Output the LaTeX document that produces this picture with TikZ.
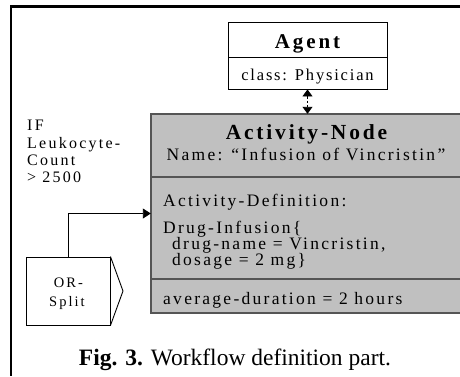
\documentclass[tikz,border=0pt]{standalone}
\usepackage{fontspec}
\setmainfont{Liberation Serif}
\newfontfamily\lsA[LetterSpace=13]{Liberation Serif}
\newfontfamily\lsB[LetterSpace=14]{Liberation Serif}
\newfontfamily\lsC[LetterSpace=14]{Liberation Serif}
\newfontfamily\lsD[LetterSpace=11]{Liberation Serif}
\usetikzlibrary{arrows.meta}
\definecolor{boxgray}{RGB}{192,192,192}
\definecolor{edgegray}{RGB}{85,85,85}
\tikzset{
  txt/.style={inner sep=0pt, anchor=base west},
  txtc/.style={inner sep=0pt, anchor=base},
  plainbox/.style={draw=black, line width=0.9pt, inner sep=0pt},
  tri/.style={-{Triangle[width=10pt,length=8pt]}},
  dtri/.style={{Triangle[width=10pt,length=7pt]}-{Triangle[width=10pt,length=7pt]}},
}
\begin{document}
\begin{tikzpicture}[x=1pt,y=-1pt]
\useasboundingbox (0,0) rectangle (460,376);
% frame
\draw[line width=2.3pt] (460,6.5) -- (11,6.5) -- (11,376);
% agent box
\node[plainbox, minimum width=159pt, minimum height=67pt] (agent) at (307.5,55.5) {};
\draw[line width=0.9pt] (228,57) -- (387,57);
\node[txtc] (agentT) at (307.5,48) {\lsB\fontsize{21}{24}\selectfont\bfseries Agent};
\node[txtc] (agentC) at (307.5,80) {\lsD\fontsize{16.5}{19}\selectfont class: Physician};
% activity box
\node[fill=boxgray, inner sep=0pt, minimum width=309pt, minimum height=199pt] (act) at (305.5,213.5) {};
\draw[edgegray, line width=1.3pt] (460,114) -- (151,114) -- (151,313) -- (460,313);
\draw[edgegray, line width=1.3pt] (151,177) -- (460,177);
\draw[edgegray, line width=1.3pt] (151,279) -- (460,279);
\node[txtc] (actT) at (306.5,139.5) {\lsA\fontsize{21.5}{24}\selectfont\bfseries Activity-Node};
\node[txtc] (actN) at (306,160) {\lsA\fontsize{17.5}{20}\selectfont Name: “Infusion of Vincristin”};
\node[txt] (actD) at (163,206.5) {\lsA\fontsize{17.5}{20}\selectfont Activity-Definition:};
\node[txt] (drug1) at (163,233.5) {\lsA\fontsize{17.5}{20}\selectfont Drug-Infusion\{};
\node[txt] (drug2) at (172,249.5) {\lsA\fontsize{17.5}{20}\selectfont drug-name = Vincristin,};
\node[txt] (drug3) at (172,265.8) {\lsA\fontsize{17.5}{20}\selectfont dosage = 2 mg\}};
\node[txt] (dur) at (163,304) {\lsA\fontsize{17.5}{20}\selectfont average-duration = 2 hours};
% agent <-> activity
\draw[line width=0.9pt, dash pattern=on 2.5pt off 2pt, dtri] (agent.south) -- (agent.south |- act.north);
% condition text
\node[txt] (c1) at (27,130.5) {\lsC\fontsize{16}{18}\selectfont IF};
\node[txt] (c2) at (27,148) {\lsC\fontsize{16}{18}\selectfont Leukocyte-};
\node[txt] (c3) at (27,165) {\lsC\fontsize{16}{18}\selectfont Count};
\node[txt] (c4) at (27,182) {\lsC\fontsize{16}{18}\selectfont > 2500};
% OR split
\node[plainbox, minimum width=84pt, minimum height=68pt] (orsplit) at (68,291) {};
\draw[line width=0.9pt] (orsplit.north east) -- (123,291) -- (orsplit.south east);
\node[txtc] (or1) at (68.5,287) {\lsC\fontsize{14.5}{17}\selectfont OR-};
\node[txtc] (or2) at (67,306) {\lsC\fontsize{14.5}{17}\selectfont Split};
\draw[line width=0.9pt, tri] (orsplit.north) |- (act.west);
% caption
\node[txtc] (cap) at (235,365) {\fontsize{23.5}{28}\selectfont\textbf{Fig. 3.} Workflow definition part.};
\end{tikzpicture}
\end{document}
